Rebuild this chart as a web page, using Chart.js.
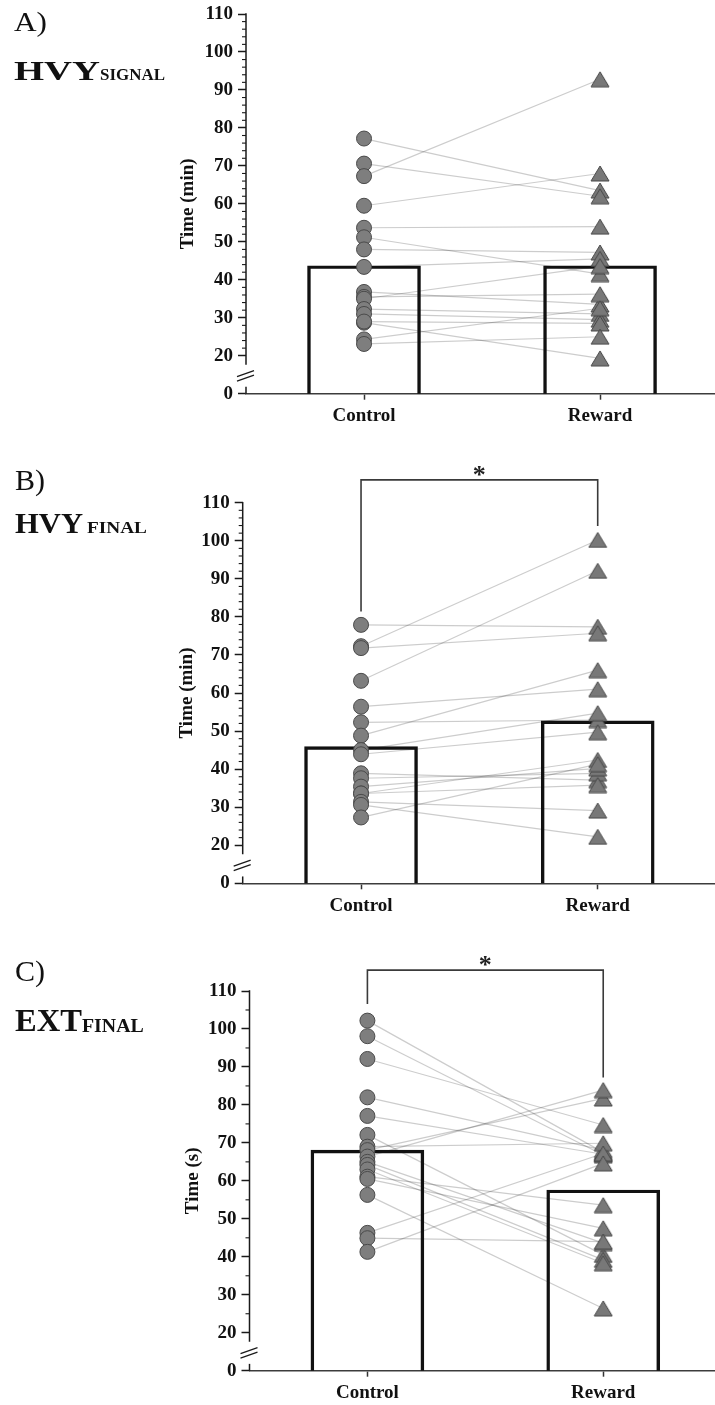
<!DOCTYPE html>
<html><head><meta charset="utf-8">
<script src="https://cdn.jsdelivr.net/npm/chart.js@4.4.1/dist/chart.umd.min.js"></script>
<style>
html,body{margin:0;padding:0;background:#fff;}
body{width:715px;height:1405px;position:relative;overflow:hidden;font-family:'Liberation Serif','Times New Roman',serif;}
.panel{position:absolute;left:0;width:715px;}
.panel canvas{display:block;}
.lbl{position:absolute;white-space:nowrap;line-height:1;color:#111;transform-origin:0 0;}
</style></head><body>
<div class="panel" style="top:0;height:450px"><canvas id="cA" width="715" height="450"></canvas></div>
<div class="panel" style="top:450px;height:470px"><canvas id="cB" width="715" height="470"></canvas></div>
<div class="panel" style="top:920px;height:485px"><canvas id="cC" width="715" height="485"></canvas></div>
<div id="labels"></div>
<script>
// ---------- data ----------
const categories = ['Control', 'Reward'];
const yTickValues = [10, 20, 30, 40, 50, 60, 70, 80, 90, 100, 110];
const yTickLabels = ['0', '20', '30', '40', '50', '60', '70', '80', '90', '100', '110'];

// A) HVY SIGNAL (min), paired per subject
const signalControl = [77.2, 70.6, 67.3, 59.5, 53.7, 51.2, 48.0, 43.4, 36.8, 35.5, 35.0, 32.3, 31.0, 28.7, 29.0, 24.3, 23.1];
const signalReward  = [63.5, 62.0, 92.8, 68.0, 54.0, 41.5, 47.2, 45.5, 33.5, 36.2, 43.6, 31.0, 29.5, 19.3, 28.5, 32.5, 25.0];
const signalMeans   = [43.7, 43.7];

// B) HVY FINAL (min)
const finalControl = [77.9, 72.3, 71.8, 63.2, 56.4, 52.3, 48.8, 45.0, 43.9, 38.9, 37.6, 35.4, 33.6, 33.6, 31.4, 30.6, 27.3];
const finalReward  = [77.4, 100.2, 75.7, 92.1, 61.0, 52.9, 66.0, 54.7, 49.7, 37.1, 38.9, 40.2, 42.4, 35.8, 29.1, 22.2, 41.3];
const finalMeans   = [45.9, 52.7];
const finalBracket = [81.4, 116.0, 103.9];   // left end, top, right end

// C) EXT FINAL (s)
const extControl = [102.2, 98.1, 92.1, 82.0, 77.1, 72.1, 69.0, 68.1, 66.4, 65.0, 64.2, 63.0, 61.1, 60.5, 56.3, 46.3, 44.9, 41.3];
const extReward  = [67.5, 66.8, 74.7, 68.1, 67.0, 40.5, 69.9, 81.7, 83.9, 43.6, 39.2, 38.3, 53.6, 47.5, 26.4, 67.2, 44.0, 64.6];
const extMeans   = [68.1, 57.6];
const extBracket = [106.6, 115.5, 87.2];

// ---------- styles ----------
const FONT = "'Liberation Serif','Times New Roman',serif";
const INK = '#111';

function triangleImg(w, h) {
  const c = document.createElement('canvas');
  c.width = w + 2; c.height = h + 2;
  const g = c.getContext('2d');
  g.beginPath();
  g.moveTo(c.width / 2, 1); g.lineTo(w + 1, h + 1); g.lineTo(1, h + 1); g.closePath();
  g.fillStyle = '#787878'; g.fill();
  g.strokeStyle = '#474747'; g.lineWidth = 1; g.stroke();
  return c;
}
const TRI = triangleImg(18, 15);

const axisDecor = {
  id: 'axisDecor',
  afterDatasetsDraw(chart, args, o) {
    const ctx = chart.ctx, ys = chart.scales.y, xs = chart.scales.x;
    const ax = chart.chartArea.left;
    const P = v => ys.getPixelForValue(v);
    const seg = (x1, y1, x2, y2) => { ctx.beginPath(); ctx.moveTo(x1, y1); ctx.lineTo(x2, y2); ctx.stroke(); };
    ctx.save();
    ctx.strokeStyle = '#1a1a1a';
    ctx.lineWidth = 1.5;
    seg(ax, P(ys.max) - 0.75, ax, P(o.gapTop));
    seg(ax, P(o.gapBottom), ax, P(ys.min));
    ctx.lineWidth = 1.1;
    for (let k = 1; 20 + k * o.minorStep < ys.max; k++) {
      const v = 20 + k * o.minorStep;
      if (v % 10 === 0) continue;
      const py = P(v);
      seg(ax - 4, py, ax, py);
    }
    const yc = P(o.breakMid);
    ctx.lineWidth = 1.3;
    [-2.3, 2.3].forEach(d => seg(ax - 9, yc + d + 3, ax + 8, yc + d - 3));
    if (o.starY !== undefined) {
      ctx.fillStyle = '#222';
      ctx.font = 'bold 26px ' + FONT;
      ctx.textAlign = 'center';
      ctx.textBaseline = 'middle';
      ctx.fillText('*', xs.getPixelForValue(0.5), P(o.starY) - 4);
    }
    ctx.restore();
  }
};

function buildPanel(id, p) {
  const datasets = [];
  datasets.push({
    type: 'scatter', data: p.control.map(v => ({x: 0, y: v})),
    pointStyle: 'circle', pointRadius: 7.5, backgroundColor: '#7e7e7e',
    borderColor: '#4a4a4a', borderWidth: 1, order: 0
  });
  datasets.push({
    type: 'scatter', data: p.reward.map(v => ({x: 1, y: v})),
    pointStyle: TRI, pointRadius: 9, order: 0
  });
  datasets.push({
    type: 'bar', data: p.means.map((v, i) => ({x: i, y: v})),
    barThickness: 113, backgroundColor: 'rgba(255,255,255,0)',
    borderColor: INK, borderWidth: 2.8, borderSkipped: false, order: 1
  });
  p.control.forEach((c, i) => datasets.push({
    type: 'line', data: [{x: 0, y: c}, {x: 1, y: p.reward[i]}],
    borderColor: 'rgba(0,0,0,0.2)', borderWidth: 1.2, pointRadius: 0, order: 2
  }));
  if (p.bracket) datasets.push({
    type: 'line',
    data: [{x: 0, y: p.bracket[0]}, {x: 0, y: p.bracket[1]}, {x: 1, y: p.bracket[1]}, {x: 1, y: p.bracket[2]}],
    borderColor: '#3a3a3a', borderWidth: 1.6, pointRadius: 0, clip: false, order: 1
  });

  const canvas = document.getElementById(id);
  const H = canvas.height;
  return new Chart(canvas, {
    type: 'scatter',
    data: {datasets},
    plugins: [axisDecor],
    options: {
      responsive: false, animation: false, devicePixelRatio: 1,
      events: [],
      layout: {autoPadding: false, padding: {top: p.padTop, left: 0, right: 0, bottom: 0}},
      plugins: {
        legend: {display: false}, tooltip: {enabled: false},
        axisDecor: {gapTop: p.gapTop, gapBottom: p.gapBottom, breakMid: p.breakMid, minorStep: p.minorStep,
                    starY: p.bracket ? p.bracket[1] : undefined}
      },
      scales: {
        x: {
          type: 'linear', min: -0.5, max: p.xMax, offset: false,
          afterBuildTicks: s => { s.ticks = categories.map((c, i) => ({value: i})); },
          ticks: {
            callback: v => categories[v], font: {family: FONT, size: 19, weight: 'bold'},
            color: INK, padding: 5, maxRotation: 0, autoSkip: false
          },
          grid: {offset: false, drawOnChartArea: false, drawTicks: true, tickLength: 6, tickColor: '#333', tickWidth: 1.5},
          border: {display: true, color: '#3c3c3c', width: 1.6},
          afterFit: s => { s.height = H - p.bottom; s.paddingLeft = 0; s.paddingRight = 0; }
        },
        y: {
          type: 'linear', min: 10, max: 110,
          afterBuildTicks: s => { s.ticks = yTickValues.map(v => ({value: v})); },
          ticks: {
            callback: (v) => yTickLabels[yTickValues.indexOf(v)],
            font: {family: FONT, size: 19, weight: 'bold'}, color: INK, padding: 5
          },
          grid: {drawOnChartArea: false, drawTicks: true, tickLength: 8, tickColor: '#1a1a1a', tickWidth: 1.5},
          border: {display: false},
          title: {
            display: true, text: p.yTitle, color: INK,
            font: {family: FONT, size: 19, weight: 'bold'},
            padding: {top: p.titleX - 11.4, bottom: 0}
          },
          afterFit: s => { s.width = p.left; s.paddingTop = 0; s.paddingBottom = 0; }
        }
      }
    }
  });
}

buildPanel('cA', {control: signalControl, reward: signalReward, means: signalMeans,
  padTop: 14, bottom: 393.7, left: 246, xMax: 1.487, titleX: 188, yTitle: 'Time (min)',
  gapTop: 17.6, gapBottom: 11.8, breakMid: 14.7, minorStep: 2});
buildPanel('cB', {control: finalControl, reward: finalReward, means: finalMeans, bracket: finalBracket,
  padTop: 52.7, bottom: 433.3, left: 242.7, xMax: 1.4956, titleX: 187.5, yTitle: 'Time (min)',
  gapTop: 17.6, gapBottom: 11.8, breakMid: 14.7, minorStep: 2});
buildPanel('cC', {control: extControl, reward: extReward, means: extMeans, bracket: extBracket,
  padTop: 71, bottom: 450.7, left: 249.5, xMax: 1.474, titleX: 193, yTitle: 'Time (s)',
  gapTop: 17.6, gapBottom: 11.8, breakMid: 14.7, minorStep: 5});

// ---------- panel labels (real text) ----------
const panelLabels = [
  {t: 'A)', w: 400, fs: 27, x: 14, b: 32, width: 33},
  {t: 'HVY', w: 700, fs: 28, x: 14, b: 80.5, width: 86},
  {t: 'SIGNAL', w: 700, fs: 16, x: 100, b: 80.7, width: 65},
  {t: 'B)', w: 400, fs: 30, x: 15, b: 490, width: 30},
  {t: 'HVY', w: 700, fs: 30, x: 15, b: 533, width: 68},
  {t: 'FINAL', w: 700, fs: 17, x: 87, b: 533.3, width: 60},
  {t: 'C)', w: 400, fs: 30, x: 15, b: 981, width: 30},
  {t: 'EXT', w: 700, fs: 32, x: 15, b: 1031, width: 67},
  {t: 'FINAL', w: 700, fs: 19, x: 82, b: 1031.5, width: 61.7}
];
const host = document.getElementById('labels');
panelLabels.forEach(l => {
  const d = document.createElement('div');
  d.className = 'lbl';
  d.textContent = l.t;
  d.style.fontSize = l.fs + 'px';
  d.style.fontWeight = l.w;
  d.style.left = l.x + 'px';
  d.style.top = (l.b - 0.8375 * l.fs) + 'px';
  host.appendChild(d);
  const nat = d.getBoundingClientRect().width;
  if (nat > 0) d.style.transform = 'scaleX(' + (l.width / nat).toFixed(3) + ')';
});
</script>
</body></html>
